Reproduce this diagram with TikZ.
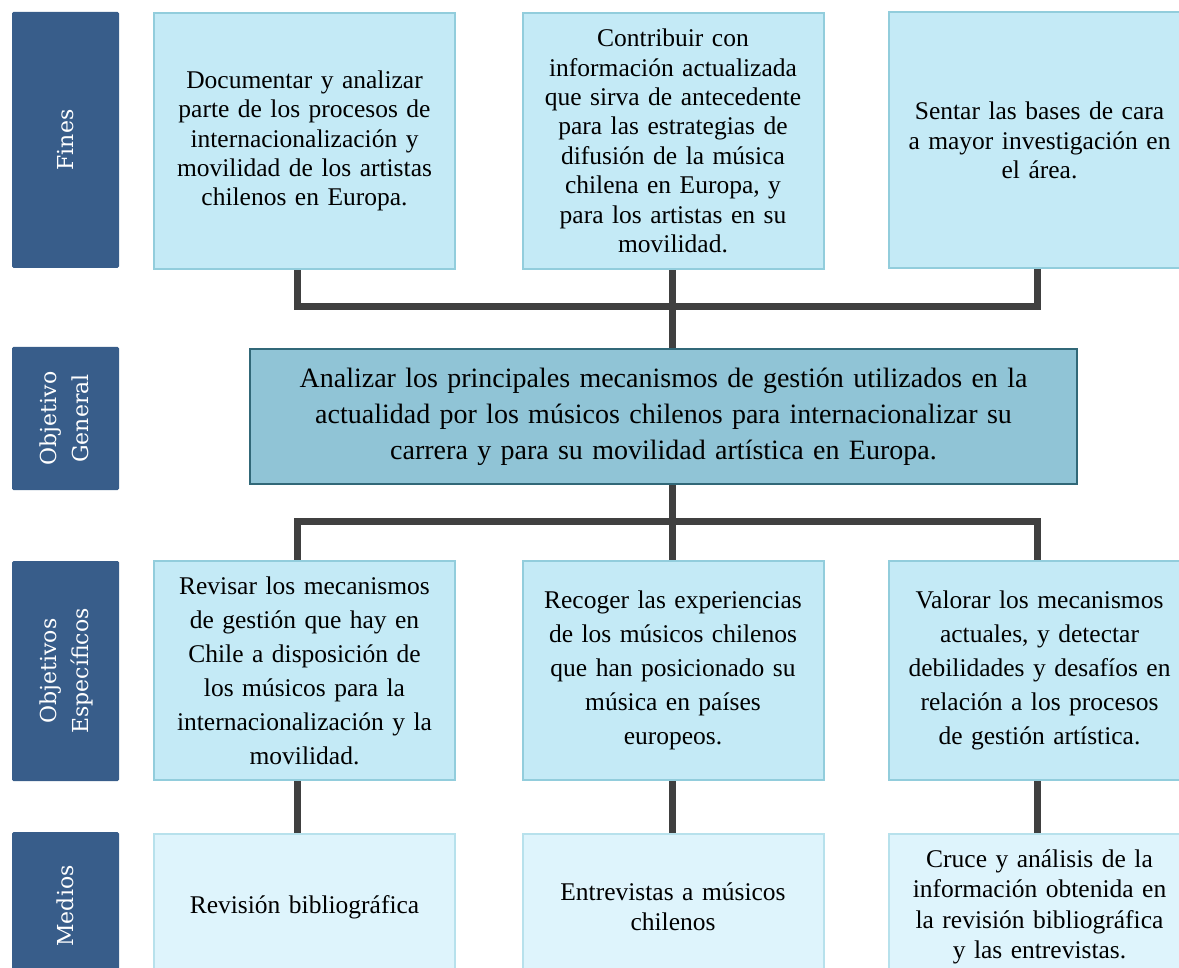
\documentclass[tikz,border=0pt]{standalone}
\usepackage{fontspec}
\setmainfont{Liberation Serif}
\newfontfamily\labelfont{DejaVu Serif}
\usetikzlibrary{backgrounds}
\definecolor{labelblue}{RGB}{56,93,138}
\definecolor{boxfill}{RGB}{196,234,246}
\definecolor{boxline}{RGB}{146,205,220}
\definecolor{genfill}{RGB}{144,196,214}
\definecolor{genline}{RGB}{49,104,120}
\definecolor{medfill}{RGB}{222,244,252}
\definecolor{medline}{RGB}{183,225,236}
\definecolor{connc}{RGB}{64,64,64}
\tikzset{
  rowlabel/.style={fill=labelblue, draw=none, rounded corners=1.5pt, minimum width=107pt, inner sep=0pt, text=white, align=center, font=\labelfont\fontsize{22}{35}\selectfont},
  finbox/.style={fill=boxfill, draw=boxline, line width=2pt, minimum width=301pt, minimum height=256pt, inner sep=0pt, text width=290pt, align=center, font=\fontsize{25.5}{29.4}\selectfont},
  espbox/.style={fill=boxfill, draw=boxline, line width=2pt, minimum width=301pt, minimum height=219pt, inner sep=0pt, text width=290pt, align=center, font=\fontsize{25.5}{34}\selectfont},
  medbox/.style={fill=medfill, draw=medline, line width=2pt, minimum width=301pt, minimum height=146pt, inner sep=0pt, text width=290pt, align=center, font=\fontsize{25.5}{30.5}\selectfont},
  genbox/.style={fill=genfill, draw=genline, line width=2pt, minimum width=827pt, minimum height=135pt, inner sep=0pt, text width=810pt, align=center, font=\fontsize{28}{36}\selectfont},
  conn/.style={draw=connc, line width=7pt}
}
\begin{document}
\begin{tikzpicture}[x=1pt,y=-1pt]
\useasboundingbox (0,0) rectangle (1179,968);
\clip (0,0) rectangle (1179,968);
% row labels
\node[rowlabel, minimum height=256pt] (lfin) at (65.5,140) {\rotatebox{90}{Fines}};
\node[rowlabel, minimum height=143pt] (lgen) at (65.5,418.5) {\rotatebox{90}{\begin{tabular}{@{}c@{}}Objetivo\\[-0.15em]General\end{tabular}}};
\node[rowlabel, minimum height=220pt] (lesp) at (65.5,671) {\rotatebox{90}{\begin{tabular}{@{}c@{}}Objetivos\\[-0.15em]Específicos\end{tabular}}};
\node[rowlabel, minimum height=148pt] (lmed) at (65.5,906) {\rotatebox{90}{Medios}};
% fines
\node[finbox] (f1) at (304.5,141) {Documentar y analizar\\ parte de los procesos de\\ internacionalización y\\ movilidad de los artistas\\ chilenos en Europa.};
\node[finbox] (f2) at (673,141) {Contribuir con\\ información actualizada\\ que sirva de antecedente\\ para las estrategias de\\ difusión de la música\\ chilena en Europa, y\\ para los artistas en su\\ movilidad.};
\node[finbox] (f3) at (1039.5,140.5) {Sentar las bases de cara\\ a mayor investigación en\\ el área.};
% general
\node[genbox] (gen) at (663.5,416.5) {Analizar los principales mecanismos de gestión utilizados en la\\ actualidad por los músicos chilenos para internacionalizar su\\ carrera y para su movilidad artística en Europa.};
% especificos
\node[espbox] (e1) at (304.5,670.5) {Revisar los mecanismos\\ de gestión que hay en\\ Chile a disposición de\\ los músicos para la\\ internacionalización y la\\ movilidad.};
\node[espbox] (e2) at (673,670.5) {Recoger las experiencias\\ de los músicos chilenos\\ que han posicionado su\\ música en países\\ europeos.};
\node[espbox] (e3) at (1039.5,670.5) {Valorar los mecanismos\\ actuales, y detectar\\ debilidades y desafíos en\\ relación a los procesos\\ de gestión artística.};
% medios
\node[medbox] (m1) at (304.5,907) {Revisión bibliográfica};
\node[medbox] (m2) at (673,907) {Entrevistas a músicos\\ chilenos};
\node[medbox] (m3) at (1039.5,907) {Cruce y análisis de la\\ información obtenida en\\ la revisión bibliográfica\\ y las entrevistas.};
\coordinate (busA) at (672,307);
\coordinate (busB) at (672,521);
\begin{scope}[on background layer]
\draw[conn] ([xshift=-7.5pt]f1.south) |- (busA);
\draw[conn] ([xshift=-2.5pt]f3.south) |- (busA);
\draw[conn] ([xshift=-1pt]f2.south) -- ([xshift=8.5pt]gen.north);
\draw[conn] ([xshift=8.5pt]gen.south) -- ([xshift=-1pt]e2.north);
\draw[conn] ([xshift=-7.5pt]e1.north) |- (busB);
\draw[conn] ([xshift=-2.5pt]e3.north) |- (busB);
\draw[conn] ([xshift=-7.5pt]e1.south) -- ([xshift=-7.5pt]m1.north);
\draw[conn] ([xshift=-1pt]e2.south) -- ([xshift=-1pt]m2.north);
\draw[conn] ([xshift=-2.5pt]e3.south) -- ([xshift=-2.5pt]m3.north);
\end{scope}
\end{tikzpicture}
\end{document}
